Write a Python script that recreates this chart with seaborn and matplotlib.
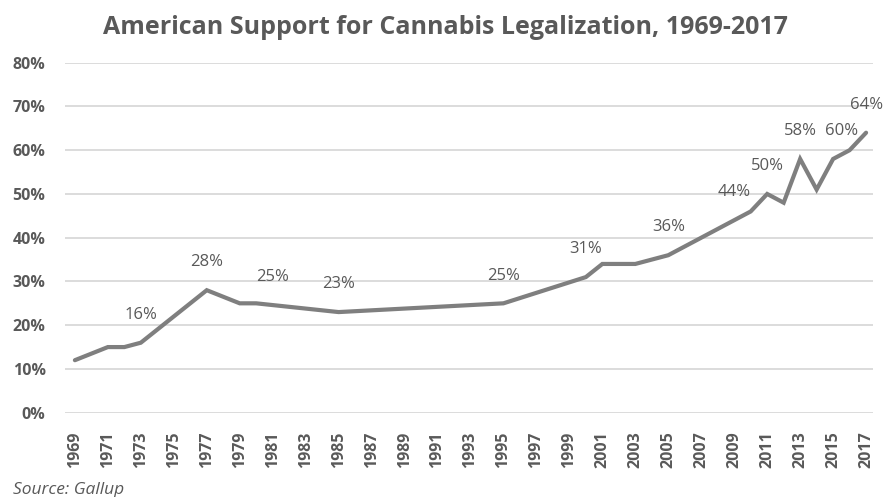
import numpy as np
import pandas as pd
import matplotlib
matplotlib.use("Agg")
import matplotlib.pyplot as plt
import seaborn as sns

# ---- data ----
years = [1969, 1971, 1972, 1973, 1977, 1979, 1980, 1985, 1995, 2000, 2001, 2003,
         2005, 2009, 2010, 2011, 2012, 2013, 2014, 2015, 2016, 2017]
support = [12, 15, 15, 16, 28, 25, 25, 23, 25, 31, 34, 34,
           36, 44, 46, 50, 48, 58, 51, 58, 60, 64]

label_years = [1973, 1977, 1981, 1985, 1995, 2000, 2005, 2009, 2011, 2013, 2016, 2017]
label_texts = ["16%", "28%", "25%", "23%", "25%", "31%", "36%", "44%", "50%", "58%", "60%", "64%"]

tick_years = list(range(1969, 2018, 2))
y_ticks = [0, 10, 20, 30, 40, 50, 60, 70, 80]

title = "American Support for Cannabis Legalization, 1969-2017"
source = "Source: Gallup"

df = pd.DataFrame({"year": years, "support": support})

sns.set_theme(style="white")
plt.rcParams["font.family"] = ["Open Sans", "DejaVu Sans"]

fig = plt.figure(figsize=(8.84, 4.97), dpi=100)
ax = fig.add_axes([65 / 884, 1 - 412.7 / 497, (873 - 65) / 884, (412.7 - 62.7) / 497])

sns.lineplot(data=df, x="year", y="support", ax=ax, color="#7f7f7f", linewidth=3.0,
             solid_joinstyle="miter")

ax.set_xlim(1968.4, 2017.42)
ax.set_ylim(0, 80)
ax.set_yticks(y_ticks)
ax.set_yticklabels([f"{v}%" for v in y_ticks])
ax.set_xticks(tick_years)
ax.set_xticklabels([str(y) for y in tick_years], rotation=90)
ax.grid(axis="y", color="#d9d9d9", linewidth=1.3)
ax.set_axisbelow(True)
for s in ax.spines.values():
    s.set_visible(False)
ax.tick_params(axis="both", length=0, colors="#595959")
ax.tick_params(axis="y", pad=14)
ax.tick_params(axis="x", pad=13.5)
for t in ax.get_yticklabels() + ax.get_xticklabels():
    t.set_fontweight("bold")
    t.set_fontsize(11.5)
    t.set_color("#595959")
ax.set_xlabel("")
ax.set_ylabel("")

offsets = {2016: (-6, 14)}
for yr, txt in zip(label_years, label_texts):
    yv = np.interp(yr, years, support)
    dx, dy = offsets.get(yr, (0, 20))
    ax.annotate(txt, (yr, yv), xytext=(dx, dy), textcoords="offset points",
                ha="center", va="center", fontsize=12, color="#595959")

fig.text(445 / 884, 1 - 28 / 497, title, ha="center", va="center",
         fontsize=18, fontweight="bold", color="#595959")
fig.text(13 / 884, 1 - 490 / 497, source, ha="left", va="center",
         fontsize=12.5, style="italic", color="#595959")

fig.savefig("out.png", dpi=100)
